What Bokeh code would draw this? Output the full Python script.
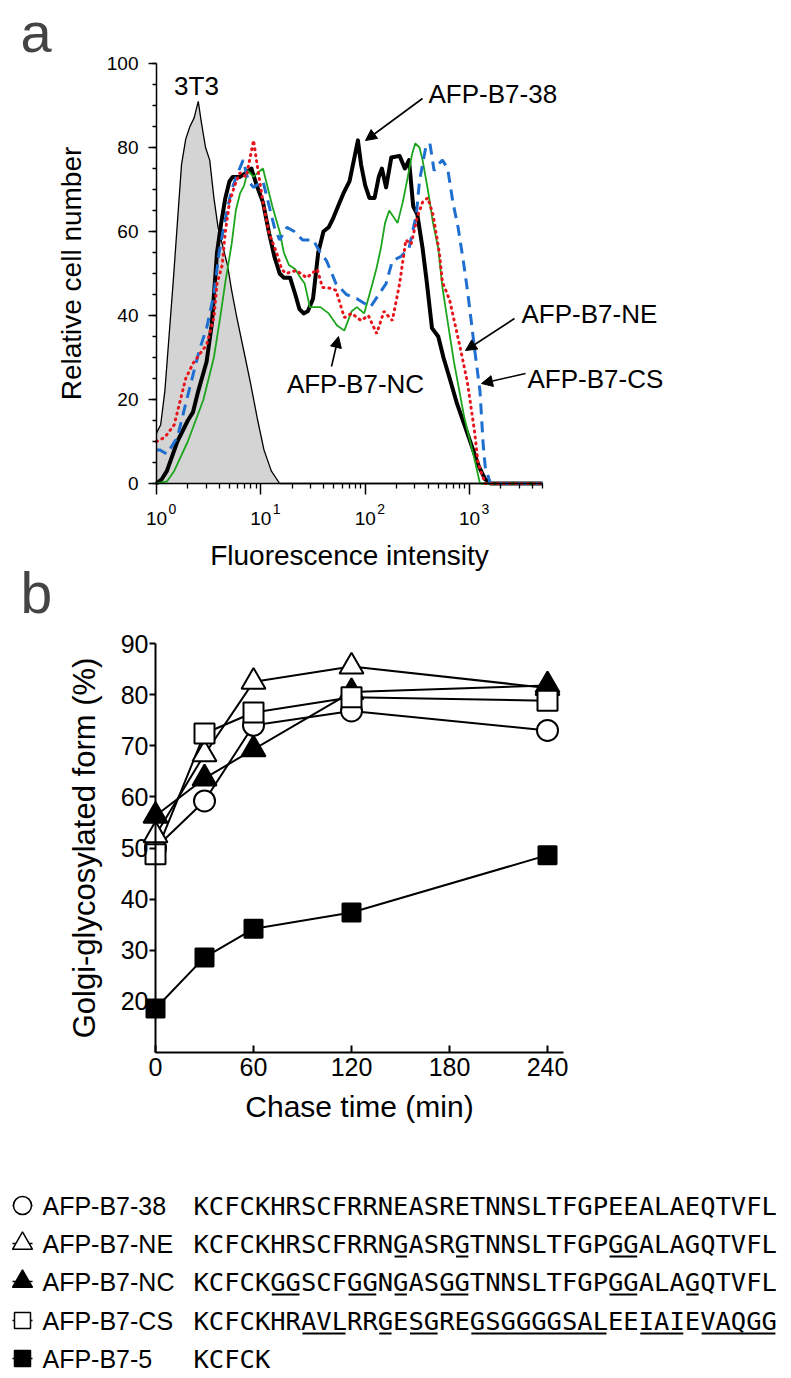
import numpy as np
from bokeh.plotting import figure
from bokeh.models import Range1d, FixedTicker, Label, Arrow, NormalHead
from bokeh.layouts import column
from bokeh.embed import file_html
from bokeh.resources import INLINE
from bokeh.core.properties import value

# ---------------- panel a: flow cytometry histograms ----------------
# x = log10(fluorescence intensity), y = relative cell number
t3t3_log = [0.00, 0.04, 0.08, 0.12, 0.16, 0.20, 0.24, 0.28, 0.32, 0.36, 0.40, 0.43, 0.47, 0.51,
            0.55, 0.59, 0.63, 0.68, 0.72, 0.77, 0.85, 0.90, 0.97, 1.03, 1.10, 1.18, 3.70]
t3t3_cells = [12, 14, 22, 35, 48, 62, 76, 82, 85, 87, 91, 86, 80, 77,
              68, 61, 57, 52, 46, 39.5, 30, 24, 15, 8, 3, 0, 0]

b38_log = [0.00, 0.05, 0.10, 0.20, 0.30, 0.35, 0.40, 0.48, 0.53, 0.58, 0.62, 0.66, 0.70, 0.73, 0.80,
           0.86, 0.91, 0.96, 1.02, 1.08, 1.13, 1.18, 1.22, 1.28, 1.33, 1.37, 1.41, 1.45, 1.50, 1.55,
           1.60, 1.65, 1.69, 1.74, 1.79, 1.85, 1.90, 1.93, 1.96, 2.00, 2.04, 2.09, 2.13, 2.16, 2.20,
           2.25, 2.33, 2.38, 2.42, 2.46, 2.50, 2.55, 2.59, 2.64, 2.70, 2.75, 2.81, 2.88, 2.95, 3.02,
           3.09, 3.15, 3.20, 3.70]
b38_cells = [0, 1, 3, 10, 15, 17, 22, 29, 38, 55, 62, 68, 72, 73, 73,
             74, 75, 71, 67, 59.5, 54, 50, 49, 49, 45, 41.5, 40.5, 41, 44, 55,
             60, 61, 63, 66, 69, 72, 78, 81.7, 76, 71, 68, 68, 73, 75, 70.5,
             77.6, 78, 75, 77, 66, 64, 56, 48, 37, 35, 30, 25, 19, 14, 9,
             4, 1, 0, 0]

nc_log = [0.00, 0.10, 0.17, 0.30, 0.45, 0.55, 0.61, 0.66, 0.72, 0.76, 0.80, 0.84, 0.875, 0.93, 0.97,
          1.02, 1.06, 1.11, 1.18, 1.22, 1.27, 1.33, 1.38, 1.42, 1.47, 1.57, 1.65, 1.73, 1.80, 1.87,
          1.92, 1.99, 2.07, 2.11, 2.15, 2.19, 2.23, 2.31, 2.36, 2.40, 2.45, 2.48, 2.52, 2.55, 2.60,
          2.65, 2.70, 2.74, 2.80, 2.85, 2.95, 3.05, 3.10, 3.70]
nc_cells = [0, 0.5, 3, 10, 20, 30, 39.5, 48, 57, 65, 69, 71, 74.5, 73, 74,
            75, 71, 66, 60, 55, 52, 51, 49, 47.6, 42, 42, 40.5, 37.6, 36.4, 41,
            42, 40.5, 47.6, 51.4, 56, 62, 65, 62, 67, 72, 78.5, 81, 80, 77, 70,
            62, 56, 46.7, 37, 29, 15.7, 5.5, 0, 0]

ne_log = [0.00, 0.08, 0.17, 0.28, 0.35, 0.42, 0.48, 0.55, 0.58, 0.63, 0.66, 0.70, 0.75, 0.80, 0.86,
          0.93, 0.97, 1.02, 1.08, 1.15, 1.20, 1.24, 1.34, 1.44, 1.54, 1.59, 1.66, 1.72, 1.80, 1.87,
          1.96, 2.03, 2.11, 2.18, 2.26, 2.33, 2.39, 2.44, 2.50, 2.55, 2.60, 2.65, 2.71, 2.74, 2.81,
          2.91, 2.98, 3.05, 3.08, 3.15, 3.70]
ne_cells = [10, 11, 14, 25, 28.6, 31, 33, 39.5, 47.6, 52, 60, 67, 71, 74, 73,
            81.7, 75, 67, 59.5, 55, 51, 50, 50.7, 49, 51, 46.7, 46.5, 46, 39.5, 40.5,
            38.8, 40, 35.7, 41, 38.8, 47.6, 58, 57, 63.5, 67, 68, 64, 55, 48, 43.6,
            32.4, 24, 12, 5, 0, 0]

cs_log = [0.00, 0.03, 0.10, 0.20, 0.30, 0.41, 0.48, 0.55, 0.60, 0.66, 0.72, 0.78, 0.83, 0.88, 0.93,
          1.02, 1.08, 1.13, 1.18, 1.25, 1.32, 1.40, 1.50, 1.57, 1.63, 1.72, 1.82, 1.92, 2.05, 2.13,
          2.20, 2.26, 2.34, 2.42, 2.49, 2.52, 2.58, 2.62, 2.66, 2.70, 2.74, 2.79, 2.84, 2.89, 2.94,
          2.98, 3.05, 3.10, 3.13, 3.15, 3.20, 3.70]
cs_cells = [8, 8, 7, 11, 21, 31.7, 37, 45, 55, 63, 70, 74, 77, 72, 70.5,
            72, 66, 61, 58, 61, 60, 58, 58, 55, 53, 47.6, 45, 44, 42, 45,
            47.6, 53, 54, 56, 64, 72, 80, 81, 74.5, 76, 77, 75, 67, 61, 53,
            46, 31.7, 22, 9.5, 4, 0, 0]

decade_ticks = [1, 10, 100, 1000]
decade_exponents = ["0", "1", "2", "3"]

# ---------------- panel b: Golgi-glycosylated form (%) ----------------
chase_time = [0, 30, 60, 120, 240]
golgi_38 = [50.0, 59.2, 74.0, 76.8, 73.0]
golgi_ne = [52.5, 68.3, 82.5, 85.5, 81.3]
golgi_nc = [56.3, 63.6, 69.3, 80.5, 81.8]
golgi_cs = [48.8, 72.4, 76.5, 79.5, 78.8]
golgi_5 = [18.6, 28.6, 34.2, 37.4, 48.6]

# ---------------- sequences ----------------
construct_names = ["AFP-B7-38", "AFP-B7-NE", "AFP-B7-NC", "AFP-B7-CS", "AFP-B7-5"]
construct_seqs = ["KCFCKHRSCFRRNEASRETNNSLTFGPEEALAEQTVFL",
                  "KCFCKHRSCFRRNGASRGTNNSLTFGPGGALAGQTVFL",
                  "KCFCKGGSCFGGNGASGGTNNSLTFGPGGALAGQTVFL",
                  "KCFCKHRAVLRRGESGREGSGGGGSALEEIAIEVAQGG",
                  "KCFCK"]
underlined_spans = [[],
                    [(13, 13), (17, 17), (27, 28)],
                    [(5, 6), (10, 11), (13, 13), (16, 17), (27, 28), (32, 32)],
                    [(7, 9), (12, 12), (14, 15), (18, 26), (29, 31), (33, 37)],
                    []]

# ---------------- styles / layout ----------------
FONT = "Liberation Sans"
MONO = "DejaVu Sans Mono"
W = 790
HA, HB, HL = 627, 512, 237
OFF = 0  # the page template has no body margin

# panel a geometry in page pixels (used to size the ranges and place annotations)
A_LEFT, A_DEC, A_BOT, A_PXU = 156.0, 104.35, 483.0, 4.2
# panel b geometry in page pixels
B_LEFT, B_PXX, B_BOT, B_PXY = 155.0, 392.0 / 240.0, 1052.0, 409.0 / 80.0


def ax_(px):
    return 10 ** ((px - A_LEFT) / A_DEC)


def ay_(py):
    return (A_BOT - py) / A_PXU


def bx_(px):
    return (px - B_LEFT) / B_PXX


def by_(py):
    return 10 + (B_BOT - py) / B_PXY


def style_axis(axis, tick_px, title_px, width):
    axis.axis_line_width = width
    axis.major_tick_line_width = width
    axis.minor_tick_line_width = 1.3
    axis.major_label_text_font = FONT
    axis.major_label_text_font_size = tick_px
    axis.major_label_text_color = "black"
    axis.axis_label_text_font = FONT
    axis.axis_label_text_font_size = title_px
    axis.axis_label_text_font_style = "normal"
    axis.axis_label_text_color = "black"


# ======================= panel a =======================
pa = figure(width=W, height=HA, x_axis_type="log",
            x_range=Range1d(ax_(OFF), ax_(OFF + W)), y_range=Range1d(ay_(OFF + HA), ay_(OFF)),
            title=None, toolbar_location=None, output_backend="svg", min_border=0)
pa.grid.visible = False
pa.outline_line_color = None

x_t3 = np.power(10.0, t3t3_log)
pa.varea(x=x_t3, y1=np.zeros(len(x_t3)), y2=t3t3_cells, fill_color="#d4d4d4")
pa.line(x_t3, t3t3_cells, line_color="black", line_width=1.3)
pa.line(np.power(10.0, b38_log), b38_cells, line_color="black", line_width=4, line_join="round")
pa.line(np.power(10.0, nc_log), nc_cells, line_color="#1ca51c", line_width=1.8)
pa.line(np.power(10.0, cs_log), cs_cells, line_color="#1f6fd0", line_width=3, line_dash="11 7")
pa.line(np.power(10.0, ne_log), ne_cells, line_color="#e8141c", line_width=3, line_dash="1 5",
        line_cap="round")

xa = pa.xaxis[0]
xa.fixed_location = 0
xa.bounds = (1, 5000)
xa.ticker = FixedTicker(ticks=decade_ticks,
                        minor_ticks=[2, 3, 4, 5, 6, 7, 8, 9, 20, 30, 40, 50, 60, 70, 80, 90,
                                     200, 300, 400, 500, 600, 700, 800, 900, 2000, 3000, 4000, 5000])
xa.major_label_overrides = {t: "10" for t in decade_ticks}
xa.major_tick_out, xa.major_tick_in = 11, 0
xa.minor_tick_out, xa.minor_tick_in = 5, 0
xa.major_label_standoff = 17
xa.axis_label = "Fluorescence intensity"
xa.axis_label_standoff = 12
style_axis(xa, "19px", "28px", 1.5)

ya = pa.yaxis[0]
ya.fixed_location = 1
ya.bounds = (0, 100)
ya.ticker = FixedTicker(ticks=[0, 20, 40, 60, 80, 100], minor_ticks=list(range(0, 101, 5)))
ya.major_tick_out, ya.major_tick_in = 8, 0
ya.minor_tick_out, ya.minor_tick_in = 4, 0
ya.major_label_standoff = 10
ya.axis_label = "Relative cell number"
ya.axis_label_standoff = 17
style_axis(ya, "19px", "28px", 1.5)

# superscript exponents of the decade tick labels
pa.text(x=np.array(decade_ticks) * 10 ** (12 / A_DEC), y=ay_(508), text=decade_exponents,
        text_font=value(FONT), text_font_size="14px", text_baseline="middle", text_align="left",
        text_color="black")

ANN = dict(text_font=FONT, text_font_size="26px", text_color="black")
pa.add_layout(Label(x=ax_(196), y=ay_(85), text="3T3", text_align="center", text_baseline="middle", **ANN))
pa.add_layout(Label(x=ax_(428), y=ay_(93), text="AFP-B7-38", text_align="left", text_baseline="middle", **ANN))
pa.add_layout(Label(x=ax_(355), y=ay_(383), text="AFP-B7-NC", text_align="center", text_baseline="middle", **ANN))
pa.add_layout(Label(x=ax_(521), y=ay_(313), text="AFP-B7-NE", text_align="left", text_baseline="middle", **ANN))
pa.add_layout(Label(x=ax_(527), y=ay_(378), text="AFP-B7-CS", text_align="left", text_baseline="middle", **ANN))

for (sx, sy, ex, ey) in [(422, 98, 365, 140), (331, 366, 338, 336), (514, 318, 465, 350), (525, 373, 481, 383)]:
    pa.add_layout(Arrow(end=NormalHead(size=11, fill_color="black", line_color="black", line_width=1),
                        x_start=ax_(sx), y_start=ay_(sy), x_end=ax_(ex), y_end=ay_(ey),
                        line_color="black", line_width=1.6))

# panel letters (vertically centred; baseline sits about 0.35 em below the centre)
pa.add_layout(Label(x=ax_(20), y=ay_(51 - 0.347 * 56), text="a", text_font=FONT, text_font_size="56px",
                    text_baseline="middle", text_align="left"))
pa.add_layout(Label(x=ax_(20), y=ay_(612 - 0.347 * 57), text="b", text_font=FONT, text_font_size="57px",
                    text_baseline="middle", text_align="left"))

# ======================= panel b =======================
top_b = OFF + HA
pb = figure(width=W, height=HB,
            x_range=Range1d(bx_(OFF), bx_(OFF + W)), y_range=Range1d(by_(top_b + HB), by_(top_b)),
            title=None, toolbar_location=None, output_backend="svg", min_border=0)
pb.grid.visible = False
pb.outline_line_color = None

series = [golgi_38, golgi_ne, golgi_nc, golgi_cs, golgi_5]
markers = ["circle", "triangle", "triangle", "square", "square"]
fills = ["white", "white", "black", "white", "black"]
msize = [21, 24, 24, 20, 18]

for vals in series:
    pb.line(chase_time, vals, line_color="black", line_width=2)
for i in [0, 1, 2, 3, 4]:
    pb.scatter(chase_time, series[i], marker=markers[i], size=msize[i], fill_color=fills[i],
               line_color="black", line_width=2)

bxa = pb.xaxis[0]
bxa.fixed_location = 10
bxa.bounds = (0, 250)
bxa.ticker = FixedTicker(ticks=[0, 60, 120, 180, 240])
bxa.major_tick_out, bxa.major_tick_in = 0, 7
bxa.major_label_standoff = 5
bxa.axis_label = "Chase time (min)"
bxa.axis_label_standoff = 11
style_axis(bxa, "25px", "30px", 2)

bya = pb.yaxis[0]
bya.fixed_location = 0
bya.bounds = (10, 90)
bya.ticker = FixedTicker(ticks=[20, 30, 40, 50, 60, 70, 80, 90])
bya.major_tick_out, bya.major_tick_in = 6, 0
bya.major_label_standoff = 1
bya.axis_label = "Golgi-glycosylated form (%)"
bya.axis_label_standoff = 16
style_axis(bya, "25px", "31px", 2)
for axis in (bxa, bya):
    axis.minor_tick_line_color = None

# ======================= sequence legend =======================
top_l = OFF + HA + HB
pl = figure(width=W, height=HL, x_range=Range1d(OFF, OFF + W), y_range=Range1d(top_l + HL, top_l),
            title=None, toolbar_location=None, output_backend="svg",
            x_axis_location=None, y_axis_location=None, min_border=0)
pl.grid.visible = False
pl.outline_line_color = None

ROW_Y = [1205, 1243, 1281, 1320, 1358]
SYM_X, SYM_HALF, NAME_X, SEQ_X = 22, 10, 42, 193
SEQ_PX = 25.5
CW = SEQ_PX * 1233.0 / 2048.0
SYM_SIZE = [18, 20, 20, 16, 16]

pl.segment(x0=[SYM_X - SYM_HALF] * 5, y0=ROW_Y, x1=[SYM_X + SYM_HALF] * 5, y1=ROW_Y,
           line_color="black", line_width=1.5)
for i in range(5):
    pl.scatter([SYM_X], [ROW_Y[i]], marker=markers[i], size=SYM_SIZE[i],
               fill_color=fills[i], line_color="black", line_width=1.5)

pl.text(x=[NAME_X] * 5, y=ROW_Y, text=construct_names, text_font=value(FONT), text_font_size="25px",
        text_baseline="middle", text_align="left", text_color="black")
pl.text(x=[SEQ_X] * 5, y=ROW_Y, text=construct_seqs, text_font=value(MONO), text_font_size=f"{SEQ_PX}px",
        text_baseline="middle", text_align="left", text_color="black")

ux0, ux1, uy = [], [], []
for i, spans in enumerate(underlined_spans):
    for (a, b) in spans:
        ux0.append(SEQ_X + a * CW + 1.5)
        ux1.append(SEQ_X + (b + 1) * CW - 1.5)
        uy.append(ROW_Y[i] + 13)
pl.segment(x0=ux0, y0=uy, x1=ux1, y1=uy, line_color="black", line_width=2)

layout = column(pa, pb, pl, spacing=0)
open("out.html", "w").write(file_html(layout, INLINE))
